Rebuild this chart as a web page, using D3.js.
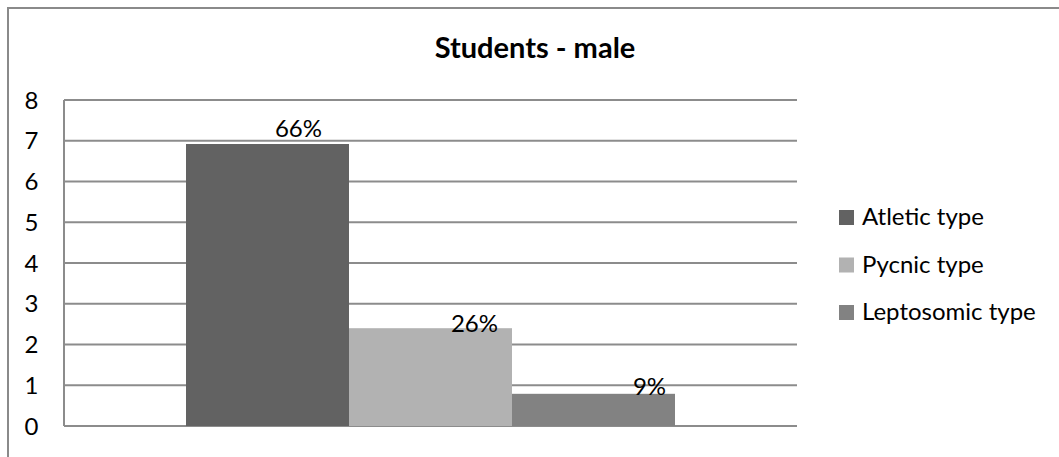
<!DOCTYPE html>
<html>
<head>
<meta charset="utf-8">
<script src="https://cdn.jsdelivr.net/npm/d3@7"></script>
<style>
  html, body { margin: 0; padding: 0; background: #fff; }
  svg { display: block; font-family: Lato, "Open Sans", sans-serif; }
</style>
</head>
<body>
<svg id="chart" width="1059" height="457"></svg>
<script>
// Body types of male students
const seriesNames = ["Atletic type", "Pycnic type", "Leptosomic type"];
const seriesValues = [6.92, 2.4, 0.79];
const valueLabels = ["66%", "26%", "9%"];
const seriesColors = ["#626262", "#b2b2b2", "#828282"];
const yTicks = [0, 1, 2, 3, 4, 5, 6, 7, 8];
const chartTitle = "Students - male";

const svg = d3.select("#chart");

// outer frame (top and left edges)
svg.append("path")
  .attr("d", "M8,457 V8 H1059")
  .attr("fill", "none")
  .attr("stroke", "#8a8a8a")
  .attr("stroke-width", 2);

const plot = { left: 64, right: 797, top: 100, bottom: 426 };

const y = d3.scaleLinear().domain([0, 8]).range([plot.bottom, plot.top]);

// one category group, bars side by side with a 150% gap width
const x = d3.scaleBand()
  .domain(seriesNames)
  .range([plot.left + 122, plot.right - 122])
  .padding(0);

// gridlines
svg.append("g")
  .selectAll("line")
  .data(yTicks)
  .join("line")
  .attr("x1", plot.left)
  .attr("x2", plot.right)
  .attr("y1", d => y(d))
  .attr("y2", d => y(d))
  .attr("stroke", "#8c8c8c")
  .attr("stroke-width", 2);

// vertical axis line
svg.append("line")
  .attr("x1", plot.left).attr("x2", plot.left)
  .attr("y1", plot.top).attr("y2", plot.bottom)
  .attr("stroke", "#8c8c8c")
  .attr("stroke-width", 2);

// y tick labels
svg.append("g")
  .selectAll("text")
  .data(yTicks)
  .join("text")
  .attr("x", 31.5)
  .attr("y", d => y(d))
  .attr("dy", "0.36em")
  .attr("text-anchor", "middle")
  .attr("font-size", 24)
  .attr("fill", "#000")
  .text(d => d);

// bars
svg.append("g")
  .selectAll("rect")
  .data(seriesValues)
  .join("rect")
  .attr("x", (d, i) => x(seriesNames[i]))
  .attr("width", x.bandwidth())
  .attr("y", d => y(d))
  .attr("height", d => y(0) - y(d))
  .attr("fill", (d, i) => seriesColors[i]);

// value labels
const labelDx = [31, 44, 56];
const labelDy = [-7, 4, 1];
svg.append("g")
  .selectAll("text")
  .data(seriesValues)
  .join("text")
  .attr("x", (d, i) => x(seriesNames[i]) + x.bandwidth() / 2 + labelDx[i])
  .attr("y", (d, i) => y(d) + labelDy[i])
  .attr("text-anchor", "middle")
  .attr("font-size", 24)
  .attr("fill", "#000")
  .text((d, i) => valueLabels[i]);

// title
svg.append("text")
  .attr("x", 535)
  .attr("y", 58)
  .attr("text-anchor", "middle")
  .attr("font-size", 29)
  .attr("font-weight", "bold")
  .attr("fill", "#000")
  .text(chartTitle);

// legend
const legend = svg.append("g")
  .selectAll("g")
  .data(seriesNames)
  .join("g")
  .attr("transform", (d, i) => `translate(839, ${225 + i * 47.5})`);

legend.append("rect")
  .attr("x", 0).attr("y", -15)
  .attr("width", 15).attr("height", 15)
  .attr("fill", (d, i) => seriesColors[i]);

legend.append("text")
  .attr("x", 23)
  .attr("y", 0)
  .attr("font-size", 24)
  .attr("fill", "#000")
  .text(d => d);
</script>
</body>
</html>
